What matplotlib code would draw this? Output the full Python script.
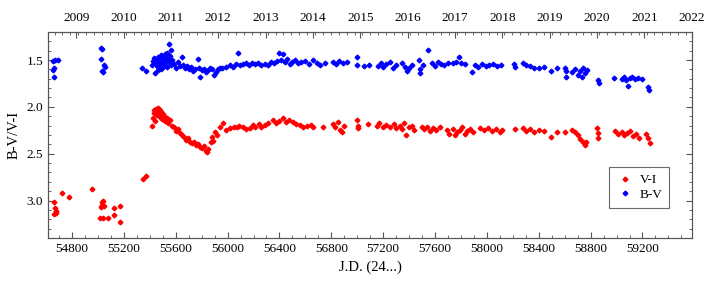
import matplotlib
matplotlib.use("Agg")
import matplotlib.pyplot as plt
from matplotlib.ticker import MultipleLocator, FixedLocator

# B-V colour index (J.D. - 2400000, mag)
bv_jd = [54655, 54672, 54660, 54657, 54662, 54690,
         55020, 55035, 55027, 55047, 55031, 55040, 55056, 55339, 55372,
         55418, 55425, 55430, 55438, 55442, 55450, 55455, 55460, 55465, 55470,
         55475, 55480, 55485, 55490, 55495, 55500, 55505, 55510, 55515, 55520,
         55525, 55530, 55535, 55540, 55545, 55550, 55555, 55560, 55565, 55570,
         55460, 55490,
         55585, 55600, 55615, 55630, 55648, 55660, 55675, 55690, 55705, 55720,
         55735, 55750, 55770, 55780, 55790, 55805, 55820, 55835, 55850, 55865,
         55880, 55895,
         55910, 55925, 55940, 55960, 55990, 56020, 56045, 56065, 56080, 56095,
         56120, 56140, 56165, 56185, 56210, 56235, 56260, 56290, 56310, 56335,
         56360, 56380, 56400, 56410, 56425, 56440, 56460, 56480, 56500, 56520,
         56545, 56570, 56600, 56630, 56660, 56690, 56710, 56750, 56810, 56835,
         56860, 56890, 56920, 56995, 57000, 57050, 57090, 57160, 57185, 57200,
         57225, 57250, 57275, 57300, 57345, 57365, 57385, 57400, 57425, 57480,
         57482, 57485, 57510, 57543, 57580, 57600, 57620, 57645, 57670, 57700,
         57740, 57765, 57782, 57800, 57830, 57882, 57905, 57930, 57960, 57990,
         58020, 58050, 58080, 58110, 58210, 58215, 58275, 58300, 58330, 58360,
         58400, 58440, 58498, 58544, 58605, 58607, 58608, 58660, 58680, 58700,
         58715, 58730, 58745, 58760, 58770, 58860, 58862, 58983, 59040, 59060,
         59075, 59085, 59100, 59120, 59140, 59165, 59200, 59245, 59248]
bv = [1.51, 1.50, 1.59, 1.61, 1.68, 1.50,
      1.37, 1.38, 1.49, 1.55, 1.62, 1.63, 1.57, 1.58, 1.62,
      1.55, 1.51, 1.48, 1.64, 1.53, 1.50, 1.56, 1.52, 1.47, 1.54,
      1.50, 1.55, 1.45, 1.52, 1.58, 1.49, 1.53, 1.47, 1.55, 1.44,
      1.51, 1.57, 1.42, 1.48, 1.33, 1.52, 1.46, 1.39, 1.55, 1.50,
      1.61, 1.60,
      1.54, 1.58, 1.52, 1.56, 1.47, 1.55, 1.58, 1.56, 1.60, 1.57,
      1.62, 1.60, 1.49, 1.59, 1.68, 1.61, 1.60, 1.63, 1.61, 1.59,
      1.60, 1.66,
      1.63, 1.60, 1.58, 1.58, 1.57, 1.55, 1.57, 1.54, 1.43, 1.55,
      1.54, 1.53, 1.55, 1.53, 1.54, 1.53, 1.55, 1.54, 1.55, 1.52,
      1.53, 1.51, 1.43, 1.50, 1.44, 1.52, 1.49, 1.54, 1.52, 1.50,
      1.53, 1.52, 1.51, 1.54, 1.50, 1.53, 1.55, 1.53, 1.52, 1.54,
      1.51, 1.53, 1.52, 1.47, 1.55, 1.56, 1.55, 1.56, 1.53, 1.57,
      1.54, 1.52, 1.58, 1.55, 1.53, 1.57, 1.62, 1.59, 1.55, 1.50,
      1.60, 1.64, 1.55, 1.39, 1.53, 1.56, 1.52, 1.54, 1.55, 1.53,
      1.53, 1.52, 1.47, 1.53, 1.54, 1.63, 1.55, 1.57, 1.54, 1.56,
      1.55, 1.54, 1.56, 1.55, 1.54, 1.57, 1.53, 1.55, 1.56, 1.58,
      1.58, 1.57, 1.62, 1.59, 1.58, 1.62, 1.68, 1.63, 1.60, 1.66,
      1.62, 1.68, 1.59, 1.64, 1.61, 1.71, 1.75, 1.69, 1.70, 1.68,
      1.71, 1.78, 1.69, 1.68, 1.70, 1.69, 1.70, 1.79, 1.82]

# V-I colour index
vi_jd = [54661, 54669, 54675, 54680, 54665, 54723, 54777, 54954, 55031, 55040,
         55035, 55045, 55025, 55016, 55039, 55077, 55124, 55122, 55170, 55168,
         55347, 55370,
         55420, 55425, 55430, 55435, 55440, 55445, 55450, 55455, 55460, 55465,
         55470, 55475, 55480, 55485, 55490, 55495, 55500, 55510, 55520, 55530,
         55540, 55555, 55570, 55590, 55605, 55620, 55632, 55650, 55665, 55680,
         55695, 55710, 55725, 55740, 55755, 55770, 55786, 55800, 55815, 55830,
         55840, 55850,
         55870, 55879, 55890, 55902, 55920, 55940, 55963, 55990, 56020, 56050,
         56071, 56090, 56117, 56140, 56171, 56195, 56215, 56240, 56260, 56285,
         56310, 56348, 56375, 56400, 56425, 56450, 56475, 56503, 56530, 56555,
         56580, 56610, 56640, 56657, 56734, 56811, 56830, 56850, 56870, 56885,
         56900, 57000, 57005, 57008, 57080, 57150, 57170, 57195, 57220, 57250,
         57280, 57300, 57330, 57345, 57360, 57380, 57400, 57420, 57440, 57496,
         57515, 57540, 57560, 57585, 57610, 57635, 57690, 57710, 57735, 57755,
         57766, 57790, 57810, 57830, 57850, 57870, 57890, 57944, 57975, 58010,
         58040, 58070, 58100, 58120, 58220, 58275, 58300, 58330, 58360, 58400,
         58440, 58498, 58544, 58600, 58660, 58680, 58700, 58720, 58740, 58755,
         58768, 58852, 58855, 58858, 58985, 59010, 59040, 59060, 59080, 59100,
         59125, 59150, 59176, 59230, 59245, 59260]
vi = [3.02, 3.08, 3.13, 3.11, 3.14, 2.92, 2.96, 2.88, 3.02, 3.00,
      3.05, 3.06, 3.07, 3.19, 3.19, 3.19, 3.08, 3.16, 3.06, 3.23,
      2.77, 2.74,
      2.20, 2.12, 2.07, 2.03, 2.15, 2.05, 2.02, 2.09, 2.04, 2.01,
      2.08, 2.03, 2.11, 2.05, 2.06, 2.13, 2.08, 2.10, 2.15, 2.12,
      2.17, 2.14, 2.20, 2.22, 2.26, 2.24, 2.28, 2.30, 2.32, 2.35,
      2.33, 2.37, 2.39, 2.38, 2.41, 2.40, 2.43, 2.44, 2.42, 2.47,
      2.48, 2.45,
      2.38, 2.32, 2.36, 2.27, 2.30, 2.22, 2.17, 2.25, 2.23, 2.21,
      2.22, 2.20, 2.22, 2.24, 2.23, 2.19, 2.21, 2.18, 2.22, 2.19,
      2.17, 2.14, 2.17, 2.15, 2.12, 2.16, 2.14, 2.16, 2.18, 2.19,
      2.22, 2.20, 2.19, 2.21, 2.21, 2.18, 2.22, 2.16, 2.25, 2.27,
      2.20, 2.14, 2.20, 2.23, 2.18, 2.20, 2.17, 2.22, 2.19, 2.21,
      2.18, 2.23, 2.20, 2.24, 2.17, 2.30, 2.22, 2.20, 2.25, 2.22,
      2.24, 2.21, 2.26, 2.23, 2.25, 2.22, 2.25, 2.29, 2.24, 2.30,
      2.27, 2.25, 2.22, 2.29, 2.26, 2.24, 2.27, 2.23, 2.25, 2.23,
      2.26, 2.24, 2.27, 2.25, 2.24, 2.23, 2.26, 2.24, 2.27, 2.25,
      2.26, 2.32, 2.27, 2.27, 2.25, 2.27, 2.30, 2.34, 2.38, 2.41,
      2.37, 2.23, 2.28, 2.33, 2.26, 2.29, 2.27, 2.30, 2.28, 2.26,
      2.31, 2.29, 2.33, 2.29, 2.33, 2.39]

years = list(range(2009, 2023))
year_jd = [54832.5, 55197.5, 55562.5, 55927.5, 56293.5, 56658.5, 57023.5,
           57388.5, 57754.5, 58119.5, 58484.5, 58849.5, 59215.5, 59580.5]

plt.rcParams['font.family'] = ['Liberation Serif', 'DejaVu Serif']
plt.rcParams['font.size'] = 9.5

fig = plt.figure(figsize=(7.08, 2.85), dpi=100)
ax = fig.add_axes([0.0678, 0.165, 0.9096, 0.723])

ax.plot(vi_jd, vi, ls='none', marker='D', ms=2.4, c='#ff0000', mec='#ff0000', label='V-I')
ax.plot(bv_jd, bv, ls='none', marker='D', ms=2.4, c='#0000ff', mec='#0000ff', label='B-V')

ax.set_xlim(54615, 59582)
ax.set_ylim(3.4, 1.2)
ax.xaxis.set_major_locator(MultipleLocator(400))
ax.xaxis.set_minor_locator(MultipleLocator(100))
ax.yaxis.set_major_locator(MultipleLocator(0.5))
ax.yaxis.set_minor_locator(MultipleLocator(0.1))
ax.yaxis.set_major_formatter(matplotlib.ticker.FormatStrFormatter('%.1f'))
ax.tick_params(which='both', direction='in', right=True, color='#555555')
ax.tick_params(which='major', length=4)
ax.tick_params(which='minor', length=2)
ax.set_xlabel('J.D. (24...)', fontsize=10.5)
ax.set_ylabel('B-V/V-I', fontsize=10.5)

top = ax.twiny()
top.set_xlim(ax.get_xlim())
top.xaxis.set_major_locator(FixedLocator(year_jd))
top.set_xticklabels([str(y) for y in years])
top.xaxis.set_minor_locator(MultipleLocator(365.25 / 6))
top.tick_params(which='both', direction='in', color='#555555')
top.tick_params(which='major', length=4, pad=6)
top.tick_params(which='minor', length=2)

for a in (ax, top):
    for s in a.spines.values():
        s.set_color('#555555')

leg = ax.legend(loc='lower right', bbox_to_anchor=(0.975, 0.115), fancybox=False,
                edgecolor='#444444', handletextpad=0.4, borderpad=0.5,
                labelspacing=0.2, handlelength=1.4, fontsize=9.5)
leg.get_frame().set_linewidth(0.8)

fig.savefig('out.png', dpi=100)
